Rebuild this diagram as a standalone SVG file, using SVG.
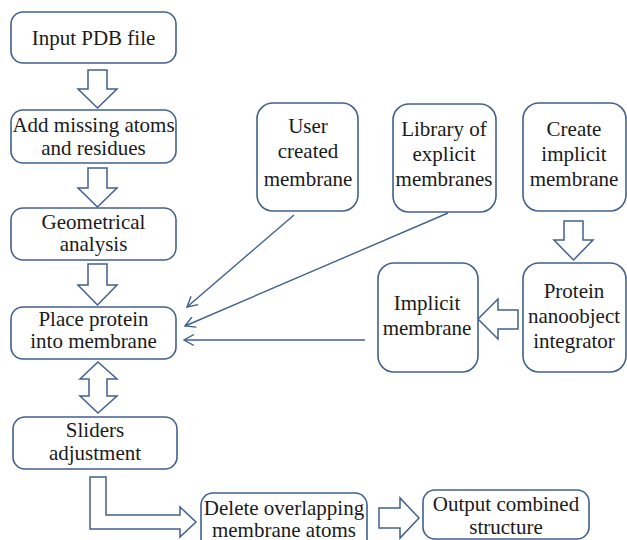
<svg xmlns="http://www.w3.org/2000/svg" width="627" height="540" viewBox="0 0 627 540">
<defs>
<marker id="ah" viewBox="0 0 12 12" refX="11" refY="6" markerWidth="12" markerHeight="12" markerUnits="userSpaceOnUse" orient="auto">
<path d="M1,0.5 L11,6 L1,11.5" fill="none" stroke="#41608f" stroke-width="1.4"/>
</marker>
</defs>
<rect width="627" height="540" fill="#fff"/>
<g id="connectors" stroke="#41608f">
<g fill="#fff" stroke-width="1.5">
<polygon points="88,70 107,70 107,89 117,89 97.5,108 78,89 88,89"/>
<polygon points="88,168 107,168 107,188 117,188 97.5,207 78,188 88,188"/>
<polygon points="88,264 107,264 107,285 117,285 97.5,305 78,285 88,285"/>
<polygon points="98,362 117,379 107,379 107,396 117,396 98,413 80,396 89,396 89,379 80,379"/>
<polygon points="90,477 106,477 106,515 180,515 180,507 196,522 180,537 180,529 90,529"/>
<polygon points="379,508 400,508 400,498 419,518 400,538 400,528 379,528"/>
<polygon points="564,221 583,221 583,240 593,240 573.5,260 554,240 564,240"/>
<polygon points="518,310 498,310 498,299 478,319 498,339 498,329 518,329"/>
</g>
<g fill="none" stroke-width="1.4" marker-end="url(#ah)">
<line x1="294" y1="215" x2="187" y2="307"/>
<line x1="448" y1="213" x2="185" y2="326"/>
<line x1="365" y1="340" x2="184" y2="340"/>
</g>
</g>
<g id="nodes" text-anchor="middle" fill="#1a1a1a">
<g id="input"><rect fill="#fff" stroke="#41608f" stroke-width="1.6" x="11" y="12" width="165" height="51" rx="12"/><text style="font-family:'Liberation Serif',serif;font-size:21px" x="93.5" y="45">Input PDB file</text></g>
<g id="add"><rect fill="#fff" stroke="#41608f" stroke-width="1.6" x="11" y="110" width="165" height="53" rx="12"/><text style="font-family:'Liberation Serif',serif;font-size:21px" x="93.5" y="132">Add missing atoms</text><text style="font-family:'Liberation Serif',serif;font-size:21px" x="93.5" y="155">and residues</text></g>
<g id="geom"><rect fill="#fff" stroke="#41608f" stroke-width="1.6" x="11" y="208" width="165" height="52" rx="12"/><text style="font-family:'Liberation Serif',serif;font-size:21px" x="93.5" y="229">Geometrical</text><text style="font-family:'Liberation Serif',serif;font-size:21px" x="93.5" y="251">analysis</text></g>
<g id="place"><rect fill="#fff" stroke="#41608f" stroke-width="1.6" x="11" y="307" width="165" height="52" rx="12"/><text style="font-family:'Liberation Serif',serif;font-size:21px" x="93.5" y="326">Place protein</text><text style="font-family:'Liberation Serif',serif;font-size:21px" x="93.5" y="348">into membrane</text></g>
<g id="sliders"><rect fill="#fff" stroke="#41608f" stroke-width="1.6" x="13" y="417" width="164" height="52" rx="12"/><text style="font-family:'Liberation Serif',serif;font-size:21px" x="95" y="437">Sliders</text><text style="font-family:'Liberation Serif',serif;font-size:21px" x="95" y="460">adjustment</text></g>
<g id="delete"><rect fill="#fff" stroke="#41608f" stroke-width="1.6" x="201" y="493" width="166" height="60" rx="12"/><text style="font-family:'Liberation Serif',serif;font-size:21px" x="284" y="515">Delete overlapping</text><text style="font-family:'Liberation Serif',serif;font-size:21px" x="284" y="537">membrane atoms</text></g>
<g id="output"><rect fill="#fff" stroke="#41608f" stroke-width="1.6" x="423" y="490" width="166" height="49" rx="12"/><text style="font-family:'Liberation Serif',serif;font-size:21px" x="506" y="511">Output combined</text><text style="font-family:'Liberation Serif',serif;font-size:21px" x="506" y="534">structure</text></g>
<g id="user"><rect fill="#fff" stroke="#41608f" stroke-width="1.6" x="257" y="103" width="101" height="108" rx="16"/><text style="font-family:'Liberation Serif',serif;font-size:21px" x="308" y="133">User</text><text style="font-family:'Liberation Serif',serif;font-size:21px" x="308" y="158">created</text><text style="font-family:'Liberation Serif',serif;font-size:21px" x="308" y="186">membrane</text></g>
<g id="library"><rect fill="#fff" stroke="#41608f" stroke-width="1.6" x="393" y="104" width="103" height="108" rx="16"/><text style="font-family:'Liberation Serif',serif;font-size:21px" x="444" y="136">Library of</text><text style="font-family:'Liberation Serif',serif;font-size:21px" x="444" y="161">explicit</text><text style="font-family:'Liberation Serif',serif;font-size:21px" x="444" y="186">membranes</text></g>
<g id="create"><rect fill="#fff" stroke="#41608f" stroke-width="1.6" x="523" y="103" width="103" height="108" rx="16"/><text style="font-family:'Liberation Serif',serif;font-size:21px" x="574" y="136">Create</text><text style="font-family:'Liberation Serif',serif;font-size:21px" x="574" y="161">implicit</text><text style="font-family:'Liberation Serif',serif;font-size:21px" x="574" y="186">membrane</text></g>
<g id="protein"><rect fill="#fff" stroke="#41608f" stroke-width="1.6" x="523" y="263" width="103" height="109" rx="16"/><text style="font-family:'Liberation Serif',serif;font-size:21px" x="574" y="298">Protein</text><text style="font-family:'Liberation Serif',serif;font-size:21px" x="574" y="323">nanoobject</text><text style="font-family:'Liberation Serif',serif;font-size:21px" x="574" y="348">integrator</text></g>
<g id="implicit"><rect fill="#fff" stroke="#41608f" stroke-width="1.6" x="378" y="263" width="100" height="109" rx="16"/><text style="font-family:'Liberation Serif',serif;font-size:21px" x="427" y="310">Implicit</text><text style="font-family:'Liberation Serif',serif;font-size:21px" x="427" y="335">membrane</text></g>
</g>
</svg>
